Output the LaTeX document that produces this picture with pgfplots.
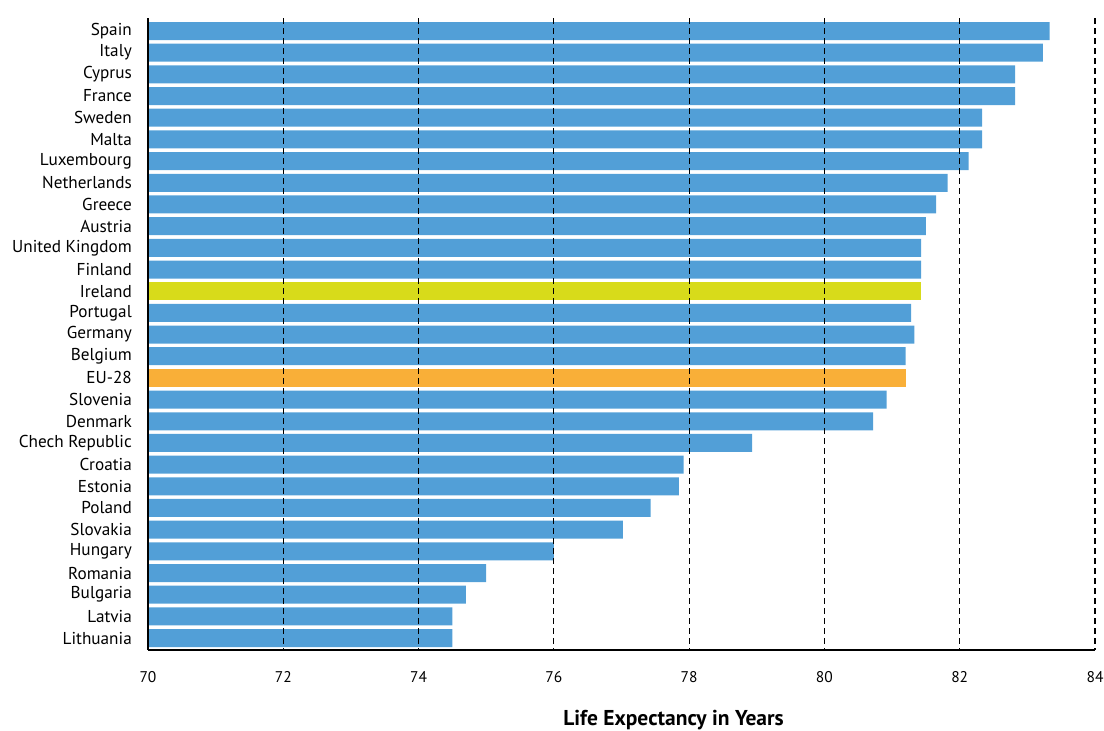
\documentclass[border=0pt]{standalone}
\usepackage{pgfplots}
\pgfplotsset{compat=1.18}
\usepackage{fontspec}
\setmainfont{PT Sans}
\definecolor{barblue}{RGB}{82,159,215}
\definecolor{baryellow}{RGB}{216,219,26}
\definecolor{barorange}{RGB}{249,175,56}
\begin{document}
\begin{tikzpicture}
\begin{axis}[
  at={(0pt,0pt)}, anchor=south west,
  scale only axis, width=947pt, height=632pt,
  xmin=70, xmax=84, ymin=-0.6, ymax=28.55,
  y dir=reverse,
  xbar, bar width=0.83, bar shift=0pt,
  axis on top,
  axis x line*=bottom, axis y line*=left,
  axis line style={line width=2.5pt, black, -},
  xtick={70,72,...,84},
  xticklabels={70,72,74,76,78,80,82,84},
  ytick={0,...,28},
  yticklabels={Spain,Italy,Cyprus,France,Sweden,Malta,Luxembourg,Netherlands,Greece,Austria,United Kingdom,Finland,Ireland,Portugal,Germany,Belgium,EU-28,Slovenia,Denmark,Chech Republic,Croatia,Estonia,Poland,Slovakia,Hungary,Romania,Bulgaria,Latvia,Lithuania},
  major tick length=0pt,
  xmajorgrids,
  grid style={black, line width=1.1pt, dash pattern=on 6pt off 4pt},
  yticklabel style={font=\fontsize{17.2}{20}\selectfont, anchor=east, inner sep=0pt, xshift=-16pt},
  xticklabel style={font=\fontsize{15.5}{19}\selectfont, anchor=north, inner sep=0pt, yshift=-21pt},
  xlabel={\textbf{Life Expectancy in Years}},
  xlabel style={font=\fontsize{21.5}{25}\selectfont, at={(axis description cs:0.555,0)}, anchor=center, yshift=-70pt},
]
\addplot[fill=barblue, draw=none] coordinates {
(83.33,0) (83.23,1) (82.82,2) (82.82,3) (82.33,4) (82.33,5) (82.13,6) (81.82,7) (81.65,8) (81.5,9) (81.43,10) (81.43,11)
(81.28,13) (81.33,14) (81.2,15) (80.92,17) (80.72,18) (78.93,19) (77.92,20) (77.85,21) (77.43,22) (77.02,23) (76.0,24) (75.0,25) (74.7,26) (74.5,27) (74.5,28)
};
\addplot[fill=baryellow, draw=none] coordinates {(81.43,12)};
\addplot[fill=barorange, draw=none] coordinates {(81.2,16)};
\end{axis}
\pgfresetboundingbox
\path[use as bounding box] (-148pt,-81pt) rectangle (956pt,650pt);
\end{tikzpicture}
\end{document}
